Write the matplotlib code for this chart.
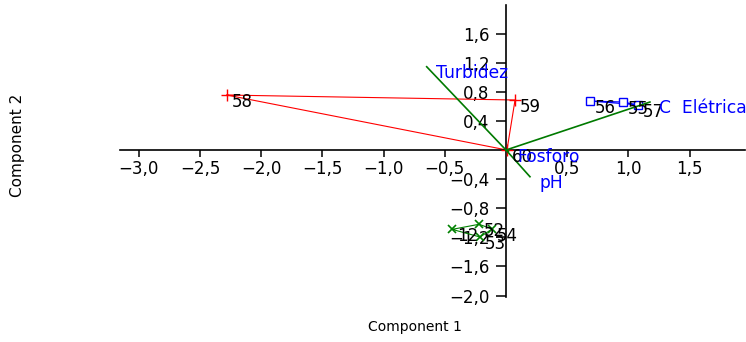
"""PCA biplot: sample scores grouped by convex hulls plus variable loadings."""

import matplotlib.pyplot as plt
import numpy as np
from matplotlib.ticker import FuncFormatter

# Sample scores, one list per group
RED_IDS = ["58", "59", "60"]
RED_X = [-2.28, 0.074, 0.008]
RED_Y = [0.755, 0.687, 0.0]

BLUE_IDS = ["56", "55", "57"]
BLUE_X = [0.686, 0.956, 1.078]
BLUE_Y = [0.673, 0.660, 0.620]

GREEN_IDS = ["12", "52", "53", "54"]
GREEN_X = [-0.44, -0.22, -0.212, -0.114]
GREEN_Y = [-1.09, -1.02, -1.195, -1.085]

# Variable loadings
VAR_NAMES = ["Turbidez", "pH", "Fosforo", "C  Elétrica"]
VAR_X = [-0.648, 0.196, 0.02, 1.176]
VAR_Y = [1.144, -0.367, -0.015, 0.659]

X_TICKS = [-3.0, -2.5, -2.0, -1.5, -1.0, -0.5, 0.5, 1.0, 1.5]
Y_TICKS = [-2.0, -1.6, -1.2, -0.8, -0.4, 0.4, 0.8, 1.2, 1.6]

RED = "#FF0000"
BLUE = "#0000FF"
GREEN = "#008000"
VEC_GREEN = "#007A00"


def hull(xs, ys):
    """Monotone-chain convex hull, returned as a closed ring."""
    pts = sorted(set(zip(xs, ys)))
    if len(pts) < 3:
        return pts

    def cross(o, a, b):
        return (a[0] - o[0]) * (b[1] - o[1]) - (a[1] - o[1]) * (b[0] - o[0])

    lower, upper = [], []
    for p in pts:
        while len(lower) >= 2 and cross(lower[-2], lower[-1], p) <= 0:
            lower.pop()
        lower.append(p)
    for p in reversed(pts):
        while len(upper) >= 2 and cross(upper[-2], upper[-1], p) <= 0:
            upper.pop()
        upper.append(p)
    ring = lower[:-1] + upper[:-1]
    return ring + [ring[0]]


def comma(v, _pos):
    return f"{v:.1f}".replace(".", ",").replace("-", "\u2212")


plt.rcParams["font.family"] = ["DejaVu Sans"]

fig = plt.figure(figsize=(7.46, 3.42), dpi=100)
ax = fig.add_axes([120 / 746, 1 - 297 / 342, 625 / 746, 292 / 342])

ax.set_xlim(-3.154, 1.953)
ax.set_ylim(-2.019, 1.992)

for side in ("top", "right"):
    ax.spines[side].set_visible(False)
for side in ("left", "bottom"):
    ax.spines[side].set_position("zero")
    ax.spines[side].set_linewidth(1.2)

ax.set_xticks(X_TICKS)
ax.set_yticks(Y_TICKS)
ax.xaxis.set_major_formatter(FuncFormatter(comma))
ax.yaxis.set_major_formatter(FuncFormatter(comma))
ax.tick_params(axis="x", direction="out", length=5, width=1.1, labelsize=12, pad=2)
ax.tick_params(axis="y", direction="out", length=7, width=1.1, labelsize=12, pad=5)

# Group hulls and sample markers
groups = [
    (RED_IDS, RED_X, RED_Y, RED, dict(marker="+", markersize=8, mew=1.0)),
    (BLUE_IDS, BLUE_X, BLUE_Y, BLUE,
     dict(marker="s", markersize=6, mfc="white", mew=1.0)),
    (GREEN_IDS, GREEN_X, GREEN_Y, GREEN, dict(marker="x", markersize=6, mew=1.2)),
]
for ids, xs, ys, color, mstyle in groups:
    ring = hull(xs, ys)
    ax.plot([p[0] for p in ring], [p[1] for p in ring], color=color,
            linewidth=0.8, zorder=2)
    ax.plot(xs, ys, linestyle="none", color=color, mec=color, zorder=3, **mstyle)
    for label, x, y in zip(ids, xs, ys):
        ax.annotate(label, (x, y), xytext=(3.6, -5), textcoords="offset points",
                    ha="left", va="center", fontsize=12, color="black", zorder=4)

# Loading vectors
for name, x, y in zip(VAR_NAMES, VAR_X, VAR_Y):
    ax.plot([0, x], [0, y], color=VEC_GREEN, linewidth=1.2, zorder=3)
    ax.annotate(name, (x, y), xytext=(6.5, -4.3), textcoords="offset points",
                ha="left", va="center", fontsize=12.3, color=BLUE, zorder=5)

fig.text(415 / 746, 1 - 327 / 342, "Component 1", ha="center", va="center",
         fontsize=10)
fig.text(18 / 746, 1 - 145 / 342, "Component 2", ha="center", va="center",
         rotation=90, fontsize=11,
         family=["Liberation Sans Narrow", "DejaVu Sans"])

fig.savefig("out.png", dpi=100)
